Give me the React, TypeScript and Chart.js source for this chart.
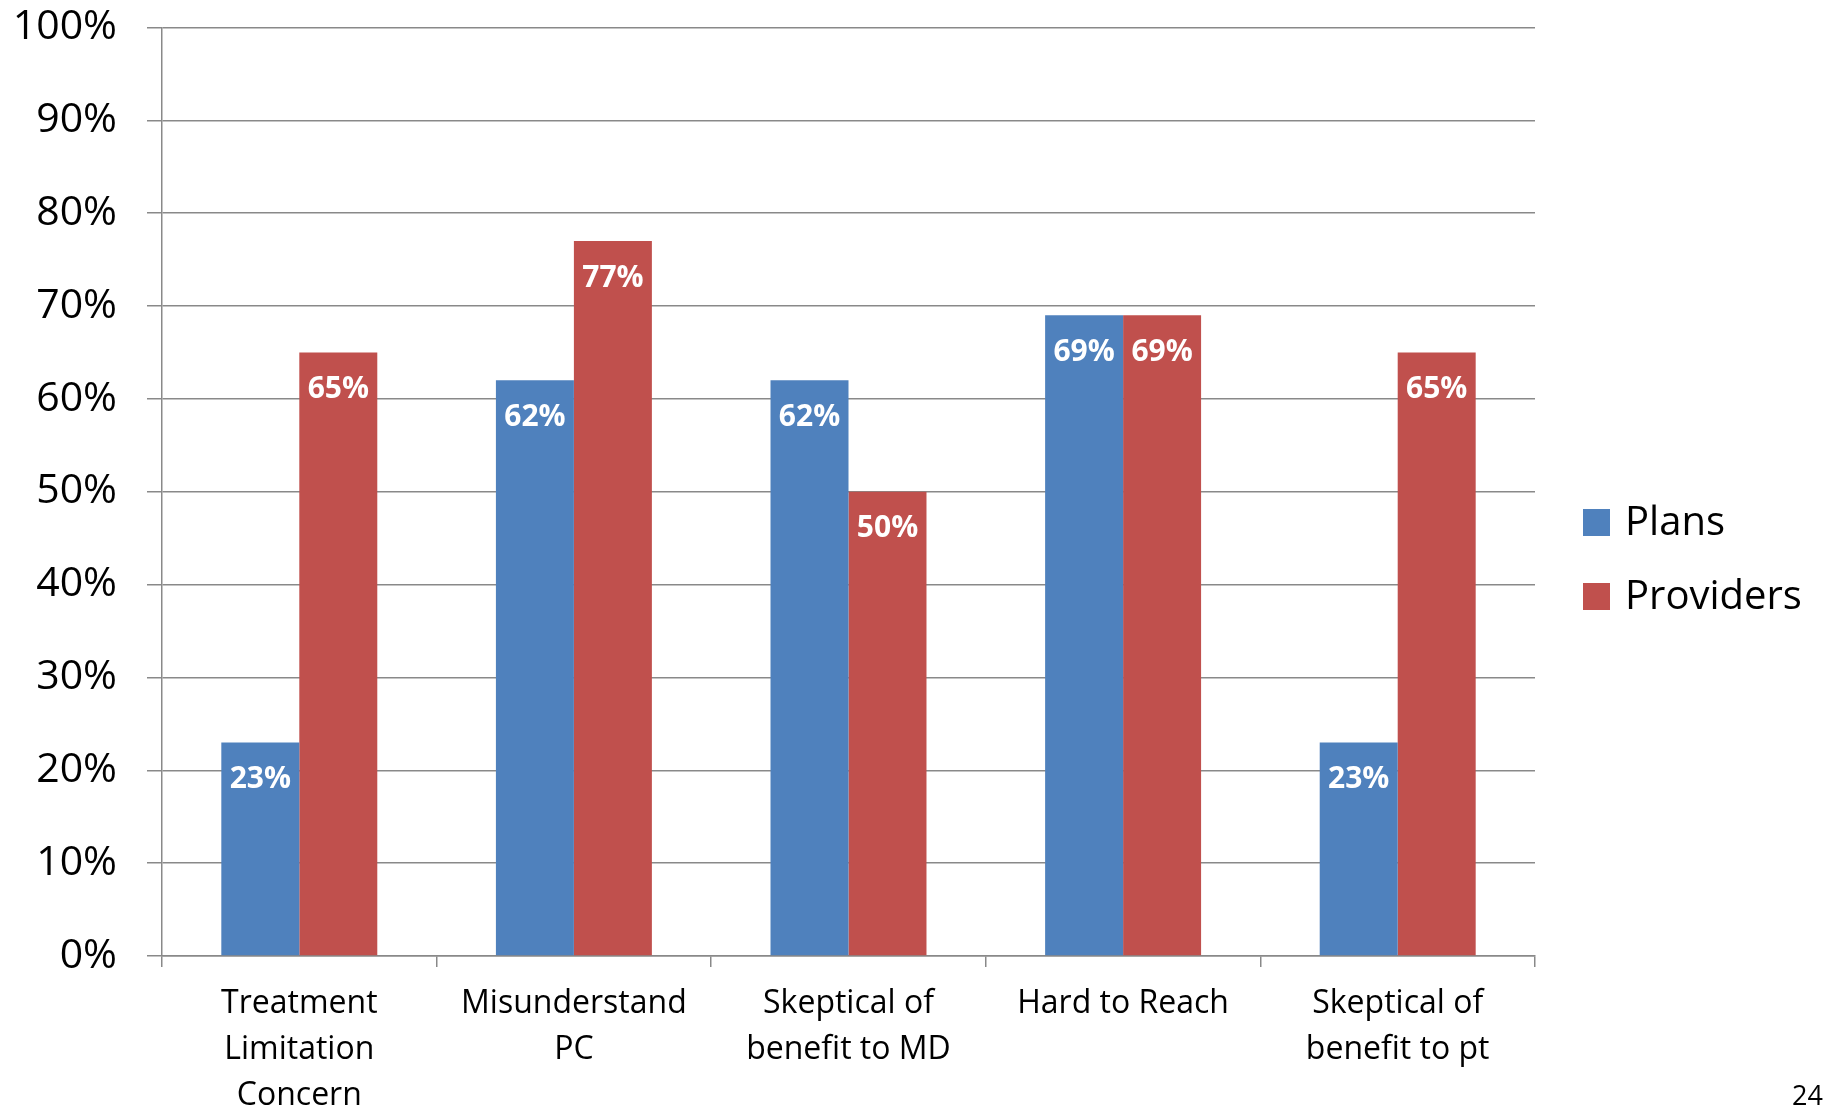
import React, { useEffect, useRef } from "react";
import { Chart, registerables } from "chart.js";

Chart.register(...registerables);

const categories: string[][] = [
  ["Treatment", "Limitation", "Concern"],
  ["Misunderstand", "PC"],
  ["Skeptical of", "benefit to MD"],
  ["Hard to Reach"],
  ["Skeptical of", "benefit to pt"],
];
const plansValues = [23, 62, 62, 69, 23];
const providersValues = [65, 77, 50, 69, 65];
const seriesNames = ["Plans", "Providers"];
const seriesColors = ["#4F81BD", "#C0504D"];
const yMax = 100;
const yStep = 10;
const pageNumber = "24";

const FONT = "'Open Sans', Lato, sans-serif";
const GRID = "#898989";

const valueLabels = {
  id: "valueLabels",
  afterDatasetsDraw(chart: any) {
    const ctx = chart.ctx;
    ctx.save();
    ctx.fillStyle = "#ffffff";
    ctx.font = `bold 30px ${FONT}`;
    ctx.textAlign = "center";
    ctx.textBaseline = "middle";
    chart.data.datasets.forEach((ds: any, i: number) => {
      chart.getDatasetMeta(i).data.forEach((el: any, j: number) => {
        ctx.fillText(ds.data[j] + "%", el.x, el.y + 37);
      });
    });
    ctx.restore();
  },
};

const customLegend = {
  id: "customLegend",
  afterDraw(chart: any) {
    const ctx = chart.ctx;
    const area = chart.chartArea;
    ctx.save();
    const boxX = area.right + 48;
    const size = 27;
    const centers = [522.5, 596.5];
    ctx.font = `40px ${FONT}`;
    ctx.textBaseline = "middle";
    ctx.textAlign = "left";
    chart.data.datasets.forEach((ds: any, i: number) => {
      const cy = centers[i];
      ctx.fillStyle = ds.backgroundColor;
      ctx.fillRect(boxX, cy - size / 2, size, size);
      ctx.fillStyle = "#000000";
      ctx.fillText(ds.label, boxX + size + 15, cy + 1);
    });
    ctx.font = `27px ${FONT}`;
    ctx.textBaseline = "alphabetic";
    ctx.fillText(pageNumber, 1792, 1105);
    ctx.restore();
  },
};

export default function App() {
  const ref = useRef<HTMLCanvasElement | null>(null);
  useEffect(() => {
    if (!ref.current) return;
    const chart = new Chart(ref.current, {
      type: "bar",
      data: {
        labels: categories as any,
        datasets: [
          {
            label: seriesNames[0],
            data: plansValues,
            backgroundColor: seriesColors[0],
            categoryPercentage: 0.568,
            barPercentage: 1.0,
          },
          {
            label: seriesNames[1],
            data: providersValues,
            backgroundColor: seriesColors[1],
            categoryPercentage: 0.568,
            barPercentage: 1.0,
          },
        ],
      },
      options: {
        responsive: false,
        animation: false,
        devicePixelRatio: 1,
        layout: { padding: { left: 0, top: 27.5, right: 289, bottom: 0 } },
        plugins: {
          legend: { display: false },
          tooltip: { enabled: false },
        },
        scales: {
          x: {
            grid: {
              drawOnChartArea: false,
              drawTicks: true,
              tickLength: 11,
              color: GRID,
              lineWidth: 1.5,
              offset: true,
            },
            border: { color: GRID, width: 1.5 },
            ticks: {
              color: "#000000",
              font: { family: FONT, size: 32, lineHeight: 1.43 },
              padding: 14,
              maxRotation: 0,
              autoSkip: false,
            },
            afterFit(scale: any) {
              scale.height = 154;
            },
          },
          y: {
            min: 0,
            max: yMax,
            grid: {
              color: GRID,
              lineWidth: 1.5,
              tickLength: 15,
              drawTicks: true,
            },
            border: { color: GRID, width: 1.5 },
            ticks: {
              stepSize: yStep,
              color: "#000000",
              font: { family: FONT, size: 41 },
              padding: 30,
              callback: (v: any) => v + "%",
            },
            afterFit(scale: any) {
              scale.width = 162;
              scale.paddingTop = 0;
              scale.paddingBottom = 0;
            },
          },
        },
      },
      plugins: [valueLabels, customLegend],
    });
    return () => chart.destroy();
  }, []);
  return (
    <div style={{ position: "fixed", left: 0, top: 0, width: 1824, height: 1110, background: "#fff" }}>
      <canvas ref={ref} width={1824} height={1110} style={{ display: "block", width: 1824, height: 1110 }} />
    </div>
  );
}
